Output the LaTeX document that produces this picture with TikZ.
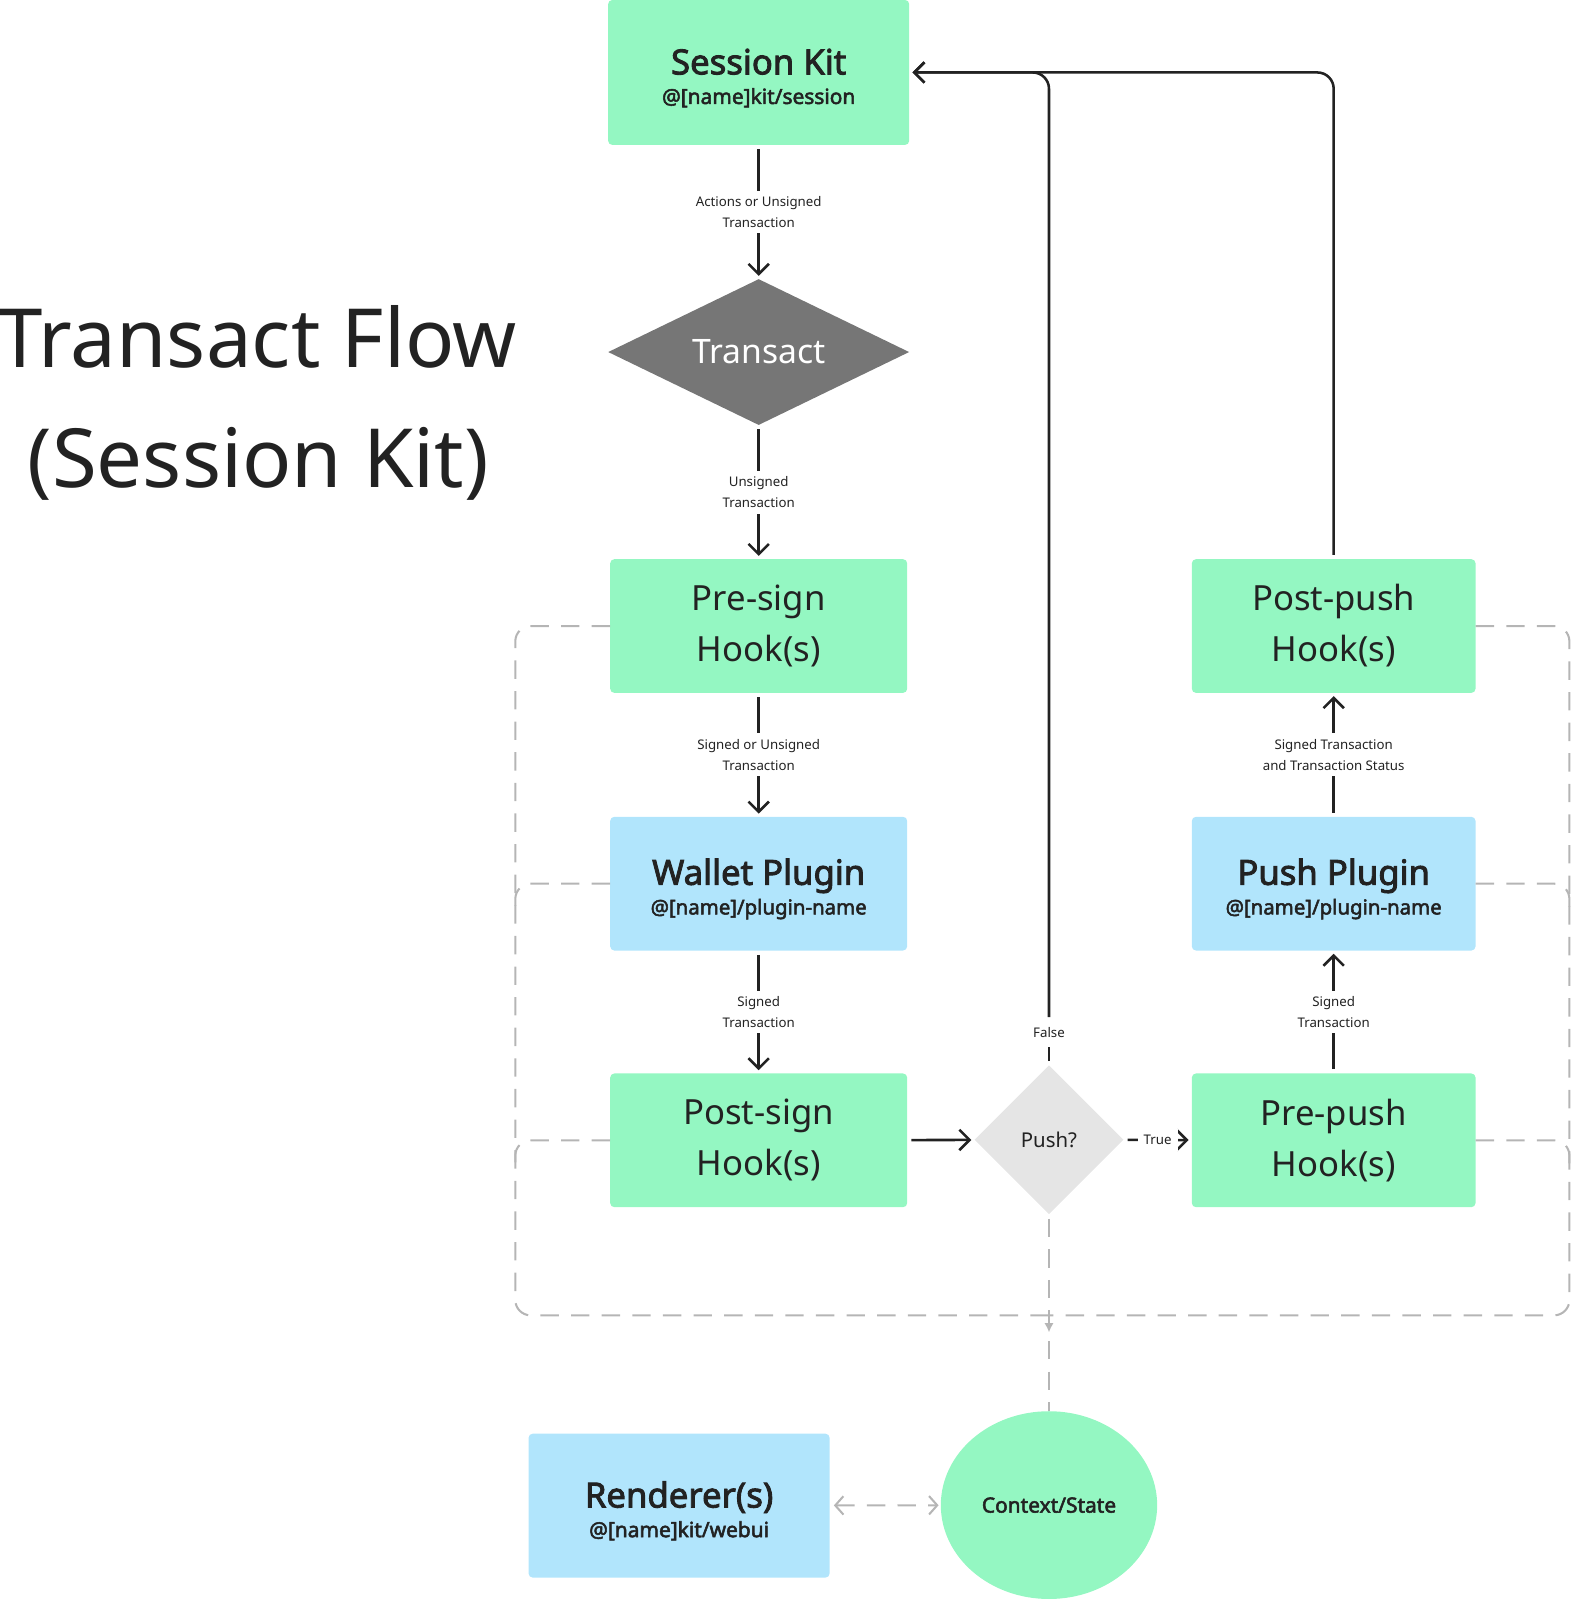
\documentclass[tikz,border=0pt]{standalone}
\usepackage{fontspec}
\setmainfont{Noto Sans}[AutoFakeBold=2.5]
\usetikzlibrary{shapes.geometric,arrows.meta,decorations.markings}
\definecolor{ink}{HTML}{222222}
\definecolor{hookgreen}{HTML}{94F7C2}
\definecolor{pluginblue}{HTML}{B1E5FC}
\definecolor{transactgray}{HTML}{767676}
\definecolor{pushgray}{HTML}{E5E5E5}
\definecolor{stategray}{HTML}{B5B5B5}
\newcommand{\kitlabel}[2]{{\fontsize{34}{29}\selectfont\rule{0pt}{36pt}#1}\\#2}

\begin{document}
\begin{tikzpicture}[x=1pt,y=-1pt,
    box/.style={rectangle,rounded corners=4pt,inner sep=0pt,align=center,text=ink,
        minimum width=291pt,minimum height=131pt},
    hook/.style={box,fill=hookgreen,font=\fontsize{34}{50}\selectfont},
    kit/.style={box,font=\fontsize{20.5}{29}\selectfont\bfseries},
    lbl/.style={fill=white,align=center,text=ink,inner sep=6pt,font=\fontsize{13}{20}\selectfont},
    wire/.style={draw=ink,line width=2.5pt,shorten <=4pt,shorten >=3pt},
    flow/.style={wire,-{Straight Barb[length=10pt,width=20pt]}},
    statelink/.style={draw=stategray,line width=2pt,dash pattern=on 18pt off 12pt,rounded corners=15pt}]
\useasboundingbox (0,0) rectangle (1540,1568);

\node[font=\fontsize{80}{90}\selectfont,text=ink,anchor=base] (title) at (252,360) {Transact Flow};
\node[font=\fontsize{80}{90}\selectfont,text=ink,anchor=base] (subtitle) at (253,478) {(Session Kit)};

\node[kit,fill=hookgreen,minimum width=295pt,minimum height=142pt] (sk) at (743.5,71)
    {\kitlabel{Session Kit}{@[name]kit/session}};
\node[diamond,aspect=2,fill=transactgray,text=white,inner sep=0pt,minimum width=295pt,minimum height=143pt,
    font=\fontsize{33}{40}\selectfont] (transact) at (743.5,345) {Transact};
\node[hook] (presign) at (743.5,613.5) {Pre-sign\\Hook(s)};
\node[kit,fill=pluginblue,font=\fontsize{20}{29}\selectfont\bfseries] (wallet) at (743.5,866)
    {\kitlabel{Wallet Plugin}{@[name]/plugin-name}};
\node[hook] (postsign) at (743.5,1117.5) {Post-sign\\Hook(s)};

\node[diamond,fill=pushgray,text=ink,inner sep=0pt,minimum width=146pt,minimum height=146pt,
    font=\fontsize{20}{24}\selectfont] (push) at (1028,1117) {Push?};

\node[hook,minimum width=278pt] (postpush) at (1307,613.5) {Post-push\\Hook(s)};
\node[kit,fill=pluginblue,minimum width=278pt,font=\fontsize{20}{29}\selectfont\bfseries] (pushplugin) at (1307,866)
    {\kitlabel{Push Plugin}{@[name]/plugin-name}};
\node[hook,minimum width=278pt] (prepush) at (1307,1117.5) {Pre-push\\Hook(s)};

\node[kit,fill=pluginblue,minimum width=295pt,minimum height=141pt] (renderer) at (665.5,1475.5)
    {\kitlabel{Renderer(s)}{@[name]kit/webui}};
\node[ellipse,fill=hookgreen,text=ink,inner sep=0pt,minimum width=212pt,minimum height=184pt,
    font=\fontsize{20.5}{24}\selectfont\bfseries] (ctx) at (1028,1475) {Context/State};

\coordinate (merge) at (1028,1289);

\draw[statelink] (presign.west) -| (505,1289) -- (merge);
\draw[statelink] (wallet.west) -| (505,890);
\draw[statelink] (postsign.west) -| (505,1141);
\draw[statelink] (postpush.east) -| (1538,1289) -- (merge);
\draw[statelink] (pushplugin.east) -| (1538,890);
\draw[statelink] (prepush.east) -| (1538,1141);
\draw[statelink,shorten <=4pt,postaction={decorate},decoration={markings,
    mark=at position 0.6 with {\arrow{Latex[length=9pt,width=9pt]}}}] (push) -- (ctx);
\draw[statelink,shorten <=4pt,shorten >=2pt,
    {Straight Barb[length=8pt,width=18pt]}-{Straight Barb[length=8pt,width=18pt]}] (renderer) -- (ctx);

\draw[flow] (sk) -- node[lbl]{Actions or Unsigned\\Transaction} (transact);
\draw[flow] (transact) -- node[lbl]{Unsigned\\Transaction} (presign);
\draw[flow] (presign) -- node[lbl]{Signed or Unsigned\\Transaction} (wallet);
\draw[flow] (wallet) -- node[lbl]{Signed\\Transaction} (postsign);
\draw[flow] (postsign) -- (push);
\draw[flow] (push) -- node[lbl]{True} (prepush);
\draw[flow] (prepush) -- node[lbl]{Signed\\Transaction} (pushplugin);
\draw[flow] (pushplugin) -- node[lbl]{Signed Transaction\\and Transaction Status} (postpush);

\node[lbl] (falselbl) at (1028,1012) {False};
\draw[wire] (push) -- (falselbl);
\draw[flow,rounded corners=16pt] (postpush) |- (sk.east);
\draw[flow,rounded corners=16pt] (falselbl) |- (sk.east);
\end{tikzpicture}
\end{document}
